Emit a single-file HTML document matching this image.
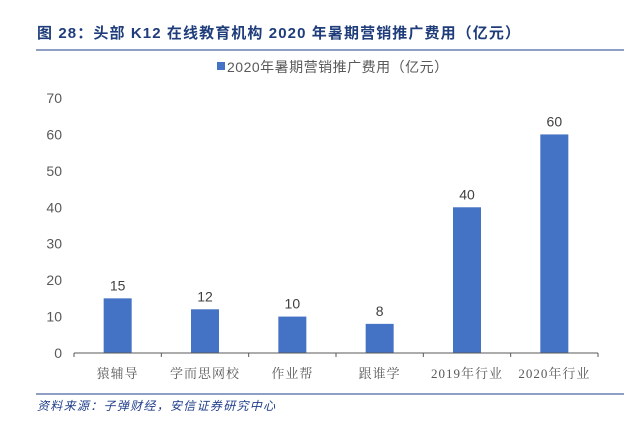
<!DOCTYPE html>
<html><head><meta charset="utf-8"><style>
body{margin:0;background:#fff;width:637px;height:420px;overflow:hidden;font-family:"Liberation Sans","Noto Sans CJK SC",sans-serif;}
</style></head><body>
<svg width="637" height="420">
<text x="37" y="38" font-size="15" font-weight="bold" fill="#1f3d7a" letter-spacing="1.1">图 28：头部 K12 在线教育机构 2020 年暑期营销推广费用（亿元）</text>
<line x1="36" y1="50" x2="624" y2="50" stroke="#1f3d8a" stroke-width="1"/>
<g>
<rect x="217" y="62" width="8" height="8" fill="#4472c4"/>
<text x="227" y="72" font-size="14" fill="#595959" letter-spacing="0.5">2020年暑期营销推广费用（亿元）</text>
</g>
<g id="yaxis"></g>
<g id="bars"></g>
<g id="xaxis"></g>
<line x1="36" y1="394" x2="624" y2="394" stroke="#1f3d8a" stroke-width="1"/>
<text x="37" y="410" font-size="12" font-style="italic" fill="#1f3d8a" letter-spacing="1.3">资料来源：子弹财经，安信证券研究中心</text>
</svg>
<script>
const categories=["猿辅导","学而思网校","作业帮","跟谁学","2019年行业","2020年行业"];
const values=[15,12,10,8,40,60];
const yTicks=[0,10,20,30,40,50,60,70];
const ns="http://www.w3.org/2000/svg";
const X0=74,X1=598,Y0=353,Y1=98,YMAX=70;
const y=v=>Y0-(v/YMAX)*(Y0-Y1);
const step=(X1-X0)/categories.length;
const xc=i=>X0+step*(i+0.5);
function mk(t,a,p){const e=document.createElementNS(ns,t);for(const k in a)e.setAttribute(k,a[k]);p.appendChild(e);return e;}
const ya=document.getElementById('yaxis'),ba=document.getElementById('bars'),xa=document.getElementById('xaxis');
yTicks.forEach(t=>{const e=mk('text',{x:62,y:y(t)+5,'font-size':14,fill:'#595959','text-anchor':'end'},ya);e.textContent=t;

});
const ax=mk('line',{x1:X0,y1:Y0,x2:X1,y2:Y0,stroke:'#595959','stroke-width':1},xa);


for(let i=0;i<=categories.length;i++){const tk=mk('line',{x1:X0+step*i,y1:Y0,x2:X0+step*i,y2:Y0+4,stroke:'#595959'},xa);

}
categories.forEach((c,i)=>{
const r=mk('rect',{x:xc(i)-14,y:y(values[i]),width:28,height:Y0-y(values[i]),fill:'#4472c4'},ba);


const v=mk('text',{x:xc(i),y:y(values[i])-8,'font-size':14,fill:'#404040','text-anchor':'middle'},ba);v.textContent=values[i];


const l=mk('text',{x:xc(i),y:378,'font-size':13,fill:'#595959','text-anchor':'middle','letter-spacing':'1','font-family':'Liberation Serif, Noto Serif CJK SC, serif'},xa);l.textContent=c;


});
</script>
</body></html>
